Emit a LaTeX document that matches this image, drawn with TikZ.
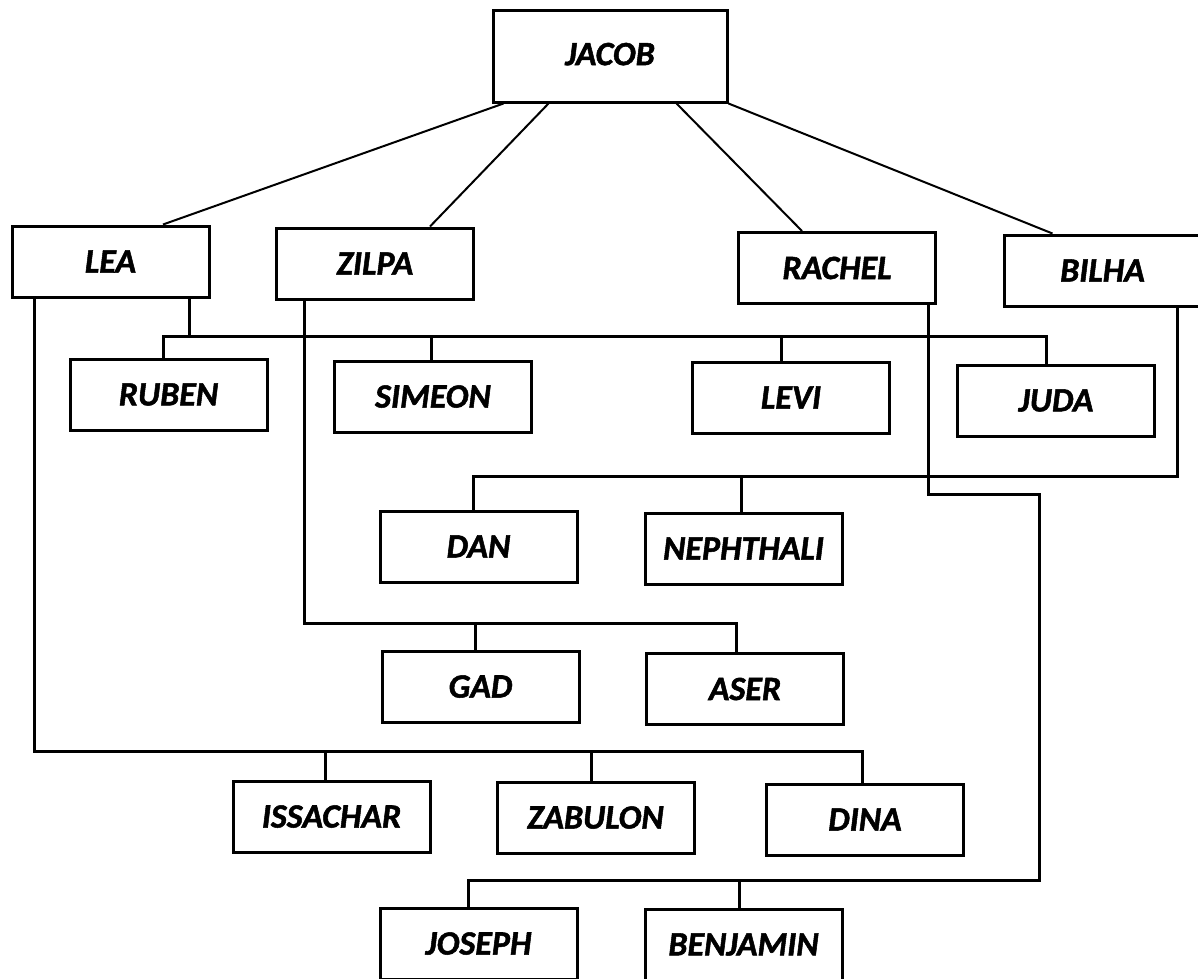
\documentclass[tikz,border=0pt]{standalone}
\usepackage{fontspec}
\setmainfont{Carlito}[BoldItalicFeatures={FakeBold=1.5}]
\begin{document}
\begin{tikzpicture}[x=1pt,y=-1pt,line width=3pt,
  box/.style={draw,rectangle,minimum width=197pt,minimum height=71pt,inner sep=0pt,
    font=\fontsize{34}{38}\selectfont\bfseries\itshape},
  tie/.style={line width=2pt}]
\useasboundingbox (0,0) rectangle (1198,978);
\node[box,minimum width=234pt,minimum height=92pt](jacob) at (610,56){\raisebox{4pt}{JACOB}};
\node[box](lea) at (110.5,261.5){LEA};
\node[box](zilpa) at (375,263.5){ZILPA};
\node[box](rachel) at (837,268){RACHEL};
\node[box](bilha) at (1102.5,270.5){BILHA};
\node[box](ruben) at (168.5,394.5){RUBEN};
\node[box](simeon) at (433,396.5){SIMEON};
\node[box](levi) at (791,397.5){LEVI};
\node[box](juda) at (1056,400.5){JUDA};
\node[box](dan) at (478.5,546.5){DAN};
\node[box](nephthali) at (743.5,548.5){NEPHTHALI};
\node[box](gad) at (480.5,686.5){GAD};
\node[box](aser) at (745,689){ASER};
\node[box](issachar) at (331.5,816.5){ISSACHAR};
\node[box](zabulon) at (595.5,817.5){ZABULON};
\node[box](dina) at (865,819.5){DINA};
\node[box](joseph) at (478.5,943.5){JOSEPH};
\node[box](benjamin) at (743.5,944.5){BENJAMIN};
% Jacob and his wives
\draw[tie]([xshift=12]jacob.south west)--([xshift=52.5]lea.north);
\draw[tie]([xshift=57]jacob.south west)--([xshift=55]zilpa.north);
\draw[tie]([xshift=-52]jacob.south east)--([xshift=-35]rachel.north);
\draw[tie](jacob.south east)--([xshift=-50]bilha.north);
% drop points
\path([xshift=-21]lea.south east)coordinate(lea1)
  ([xshift=-76]lea.south)coordinate(lea2)
  ([xshift=-71]zilpa.south)coordinate(zilpa1)
  ([xshift=91]rachel.south)coordinate(rachel1)
  ([xshift=74.5]bilha.south)coordinate(bilha1);
\path([xshift=-5.5]ruben.north)coordinate(ruben1)
  ([xshift=-2]simeon.north)coordinate(simeon1)
  ([xshift=-9.5]levi.north)coordinate(levi1)
  ([xshift=-10]juda.north)coordinate(juda1)
  ([xshift=-5.5]dan.north)coordinate(dan1)
  ([xshift=-2.5]nephthali.north)coordinate(nephthali1)
  ([xshift=-5.5]gad.north)coordinate(gad1)
  ([xshift=-9]aser.north)coordinate(aser1)
  ([xshift=-6.5]issachar.north)coordinate(issachar1)
  ([xshift=-4.5]zabulon.north)coordinate(zabulon1)
  ([xshift=-2.5]dina.north)coordinate(dina1)
  ([xshift=-10.5]joseph.north)coordinate(joseph1)
  ([xshift=-4]benjamin.north)coordinate(benjamin1);
\coordinate(bus1) at (0,336);
\coordinate(bus3) at (0,476);
\coordinate(bus4) at (0,623);
\coordinate(bus5) at (0,751);
\coordinate(bend) at (1039,494);
\coordinate(bus7) at (0,880);
% Lea: Ruben, Simeon, Levi, Juda
\draw(ruben1)--(ruben1|-bus1)--(juda1|-bus1)--(juda1);
\foreach \n in {lea1,simeon1,levi1}
  \draw(\n)--(\n|-bus1);
% Bilha: Dan, Nephthali
\draw(bilha1)|-(dan1|-bus3)--(dan1);
\draw(nephthali1)--(nephthali1|-bus3);
% Zilpa: Gad, Aser
\draw(zilpa1)|-(aser1|-bus4)--(aser1);
\draw(gad1)--(gad1|-bus4);
% Lea: Issachar, Zabulon, Dina
\draw(lea2)|-(dina1|-bus5)--(dina1);
\foreach \n in {issachar1,zabulon1}
  \draw(\n)--(\n|-bus5);
% Rachel: Joseph, Benjamin
\draw(rachel1)|-(bend)--(bend|-bus7)-|(joseph1);
\draw(benjamin1)--(benjamin1|-bus7);
\end{tikzpicture}
\end{document}
